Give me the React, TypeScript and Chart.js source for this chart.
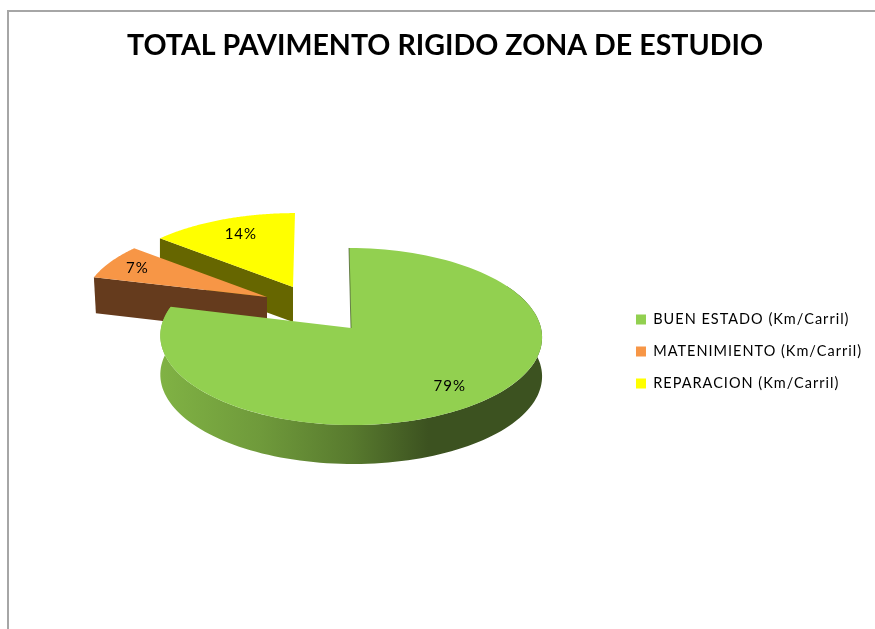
import React, { useEffect, useRef } from "react";
import { Chart, registerables } from "chart.js";

Chart.register(...registerables);

const TITLE = "TOTAL PAVIMENTO RIGIDO ZONA DE ESTUDIO";
const categories = ["BUEN ESTADO (Km/Carril)", "MATENIMIENTO (Km/Carril)", "REPARACION (Km/Carril)"];
const values = [79, 7, 14];
const faceColors = ["#92d050", "#f79646", "#ffff00"];
const cutColors = ["#3c5220", "#653b1d", "#666600"];

// Where each exploded wedge sits in the tilted 3D view.
const apexX = [351, 267, 293];
const apexY = [328, 297, 287];
const radiusX = [190, 183, 185];
const radiusY = [87.7, 81, 81];
const skewX = [-2, 0, 2];
const depth = [39, 36, 35];
const labelFraction = [0.78, 0.83, 0.78];
const labelNudgeX = [0, 0, 3];
const PERSPECTIVE = 0.096;

const project = (i: number, clockAngle: number, f = 1) => {
  const u = Math.sin(clockAngle) * f;
  const v = Math.cos(clockAngle) * f;
  const s = 1 / (1 + PERSPECTIVE * v);
  return { x: apexX[i] + radiusX[i] * u * s + skewX[i] * v, y: apexY[i] - radiusY[i] * v * s };
};

const pie3d = {
  id: "pie3d",
  beforeUpdate(chart: any) {
    const legend = chart.legend;
    if (legend && !legend.__spaced) {
      legend.__spaced = true;
      const spaced = (fn: () => void) => {
        chart.ctx.save();
        chart.ctx.letterSpacing = "1px";
        fn();
        chart.ctx.restore();
      };
      const drawLegend = legend.draw.bind(legend);
      const fitLegend = legend.fit.bind(legend);
      legend.draw = () => spaced(drawLegend);
      legend.fit = () => spaced(fitLegend);
    }
  },
  beforeDraw(chart: any) {
    const { ctx, width, height } = chart;
    ctx.save();
    ctx.fillStyle = "#ffffff";
    ctx.fillRect(0, 0, width, height);
    ctx.strokeStyle = "#a6a6a6";
    ctx.lineWidth = 2;
    ctx.beginPath();
    ctx.moveTo(8, height);
    ctx.lineTo(8, 11);
    ctx.lineTo(width, 11);
    ctx.stroke();
    ctx.restore();
  },
  beforeDatasetsDraw(chart: any) {
    const { ctx } = chart;
    const arcs = chart.getDatasetMeta(0).data;
    const clock = (a: number) => a + Math.PI / 2;
    ctx.save();
    // Painter's order: far wedges first.
    [2, 1, 0].forEach((i) => {
      const start = clock(arcs[i].startAngle);
      const end = clock(arcs[i].endAngle);
      const apex = { x: apexX[i], y: apexY[i] };
      const d = depth[i];
      if (i === 0) {
        const grad = ctx.createLinearGradient(161, 0, 543, 0);
        grad.addColorStop(0, "#80b244");
        grad.addColorStop(0.26, "#6f9a3b");
        grad.addColorStop(0.5, "#587a2e");
        grad.addColorStop(0.7, "#3c5220");
        grad.addColorStop(1, "#3c5220");
        ctx.fillStyle = grad;
        ctx.beginPath();
        const from = (60 * Math.PI) / 180;
        const n = 120;
        for (let k = 0; k <= n; k++) {
          const p = project(i, from + ((end - from) * k) / n);
          k === 0 ? ctx.moveTo(p.x, p.y) : ctx.lineTo(p.x, p.y);
        }
        for (let k = n; k >= 0; k--) {
          const p = project(i, from + ((end - from) * k) / n);
          ctx.lineTo(p.x, p.y + d);
        }
        ctx.closePath();
        ctx.fill();
      } else {
        const p = project(i, start);
        ctx.fillStyle = cutColors[i];
        ctx.beginPath();
        ctx.moveTo(apex.x, apex.y);
        ctx.lineTo(p.x, p.y);
        ctx.lineTo(p.x + (i === 1 ? 2 : 0), p.y + d);
        ctx.lineTo(apex.x, apex.y + d);
        ctx.closePath();
        ctx.fill();
      }
      ctx.fillStyle = faceColors[i];
      ctx.beginPath();
      ctx.moveTo(apex.x, apex.y);
      const n = 120;
      for (let k = 0; k <= n; k++) {
        const p = project(i, start + ((end - start) * k) / n);
        ctx.lineTo(p.x, p.y);
      }
      ctx.closePath();
      ctx.fill();
      if (i === 0) {
        const top = project(i, start);
        ctx.strokeStyle = "rgba(60,82,32,0.7)";
        ctx.lineWidth = 1;
        ctx.beginPath();
        ctx.moveTo(top.x, top.y);
        ctx.lineTo(apex.x, apex.y);
        ctx.stroke();
      }
    });
    const total = values.reduce((a, b) => a + b, 0);
    ctx.fillStyle = "#000000";
    ctx.font = "15px Lato";
    ctx.letterSpacing = "1px";
    ctx.textAlign = "center";
    ctx.textBaseline = "middle";
    [2, 1, 0].forEach((i) => {
      const mid = (clock(arcs[i].startAngle) + clock(arcs[i].endAngle)) / 2;
      const p = project(i, mid, labelFraction[i]);
      ctx.fillText(`${Math.round((values[i] / total) * 100)}%`, p.x + 1 + labelNudgeX[i], p.y + 1);
    });
    ctx.restore();
    return false;
  },
};

export default function App() {
  const ref = useRef<HTMLCanvasElement | null>(null);
  useEffect(() => {
    const chart = new Chart(ref.current as HTMLCanvasElement, {
      type: "pie",
      data: {
        labels: categories,
        datasets: [{ data: values, backgroundColor: faceColors, borderWidth: 0 }],
      },
      options: {
        animation: false,
        responsive: false,
        rotation: 0,
        layout: { padding: { left: 18, right: 3, top: 10, bottom: -64 } },
        plugins: {
          title: {
            display: true,
            text: TITLE,
            color: "#000000",
            font: { family: "Lato", size: 28.6, weight: "bold" },
            padding: { top: 19, bottom: 60 },
          },
          legend: {
            display: true,
            position: "right",
            labels: {
              boxWidth: 10,
              boxHeight: 10,
              padding: 17.5,
              color: "#000000",
              font: { family: "Lato", size: 14.5 },
            },
          },
          tooltip: { enabled: false },
        },
      },
      plugins: [pie3d],
    } as any);
    return () => chart.destroy();
  }, []);
  return (
    <canvas
      ref={ref}
      width={875}
      height={629}
      style={{ position: "fixed", left: 0, top: 0, display: "block" }}
    />
  );
}
